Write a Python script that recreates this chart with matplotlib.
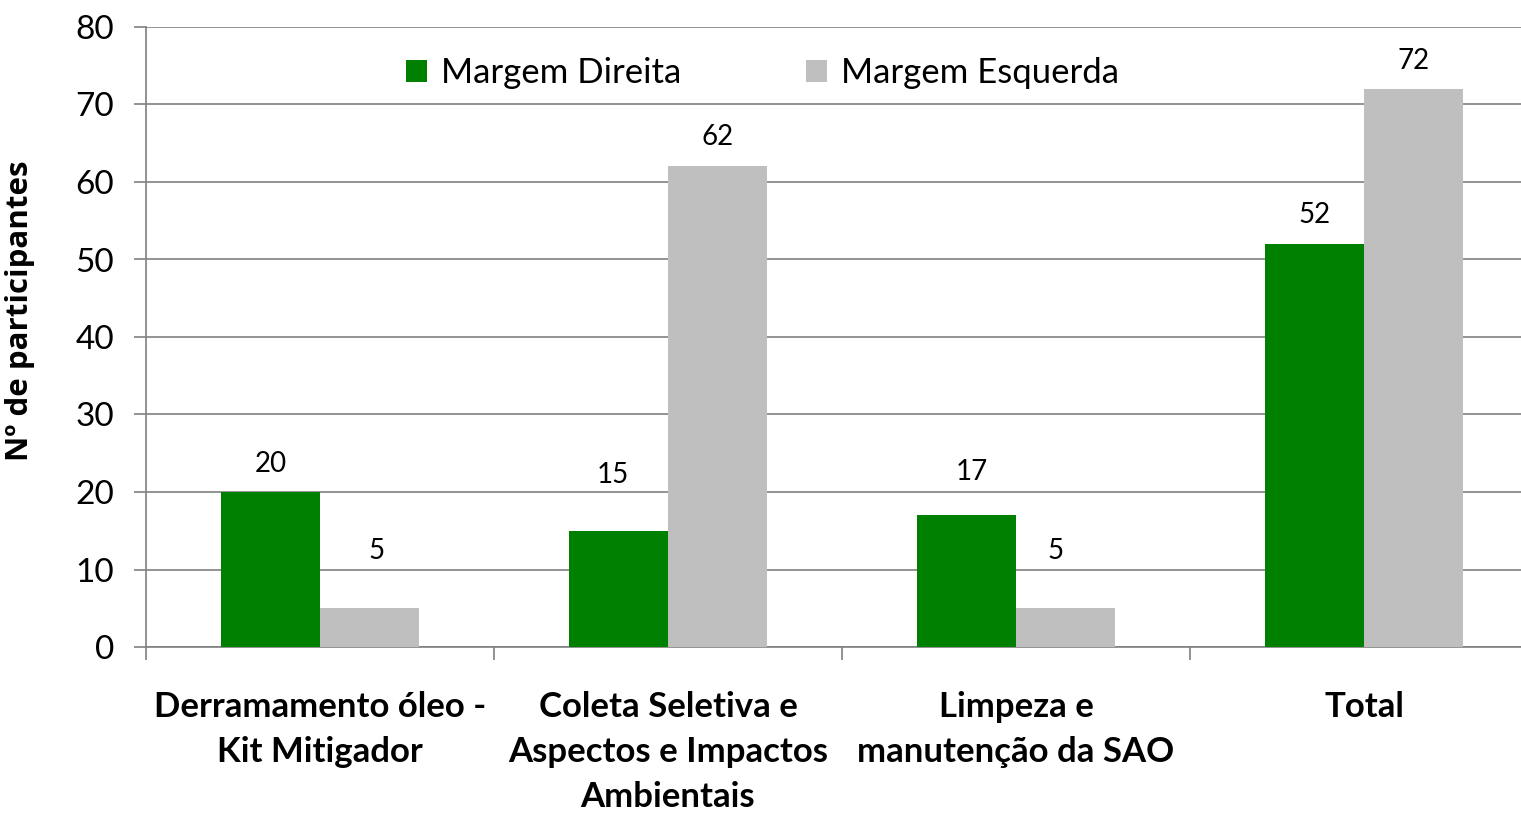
import numpy as np
import matplotlib
matplotlib.use("Agg")
from matplotlib import pyplot as plt

plt.rcParams['font.family'] = ['Lato', 'DejaVu Sans']

# dados
categorias = ['Derramamento óleo -\nKit Mitigador',
              'Coleta Seletiva e\nAspectos e Impactos\nAmbientais',
              'Limpeza e\nmanutenção da SAO',
              'Total']
margem_direita = [20, 15, 17, 52]
margem_esquerda = [5, 62, 5, 72]

# deslocamento dos rotulos (pontos), como no excel
desloc_direita = [(0, 20), (-4, 40), (4, 31), (0, 21)]
desloc_esquerda = [(5, 41), (0, 21), (-7, 41), (0, 20)]

fig = plt.figure(figsize=(15.21, 8.13), dpi=100)
ax = fig.add_axes([146/1521, 1-647/813, 1392/1521, 620/813])

x = np.arange(len(categorias))
w = 0.285
b1 = ax.bar(x - w/2, margem_direita, w, color='#008000', label='Margem Direita', zorder=3)
b2 = ax.bar(x + w/2, margem_esquerda, w, color='#BFBFBF', label='Margem Esquerda', zorder=3)

for bars, desl in ((b1, desloc_direita), (b2, desloc_esquerda)):
    for r, d in zip(bars, desl):
        ax.annotate(f'{int(r.get_height())}', (r.get_x() + r.get_width()/2, r.get_height()),
                    xytext=d, textcoords='offset points', ha='center', va='center',
                    fontsize=20)

ax.set_ylim(0, 80)
ax.set_xlim(-0.5, 3.5)
ax.set_yticks(range(0, 81, 10))
ax.tick_params(axis='y', labelsize=24, length=9, color='#808080', width=1.2, pad=14)
ax.yaxis.grid(True, color='#808080', linewidth=1.2, zorder=0)
ax.set_axisbelow(True)

# ticks nos limites das categorias, rotulos no centro
ax.set_xticks(np.arange(-0.5, 4.0, 1.0))
ax.set_xticklabels([])
ax.set_xticks(x, minor=True)
ax.set_xticklabels(categorias, minor=True, fontsize=25, fontweight='bold', linespacing=1.5)
ax.tick_params(axis='x', which='major', length=9, color='#808080', width=1.2)
ax.tick_params(axis='x', which='minor', length=0, pad=32)

for s in ['top', 'right']:
    ax.spines[s].set_visible(False)
for s in ['left', 'bottom']:
    ax.spines[s].set_color('#808080')
    ax.spines[s].set_linewidth(1.2)

ax.set_ylabel('Nº de participantes', fontsize=22.5, fontweight='bold',
              family=['Open Sans', 'DejaVu Sans'])
ax.yaxis.set_label_coords(-0.08, 0.542)

ax.legend(loc='center', bbox_to_anchor=(0.443, 0.926), ncol=2, frameon=False,
          fontsize=25, handlelength=0.6, handleheight=0.6, columnspacing=3.6, handletextpad=0.4)

fig.savefig('out.png', dpi=100)
